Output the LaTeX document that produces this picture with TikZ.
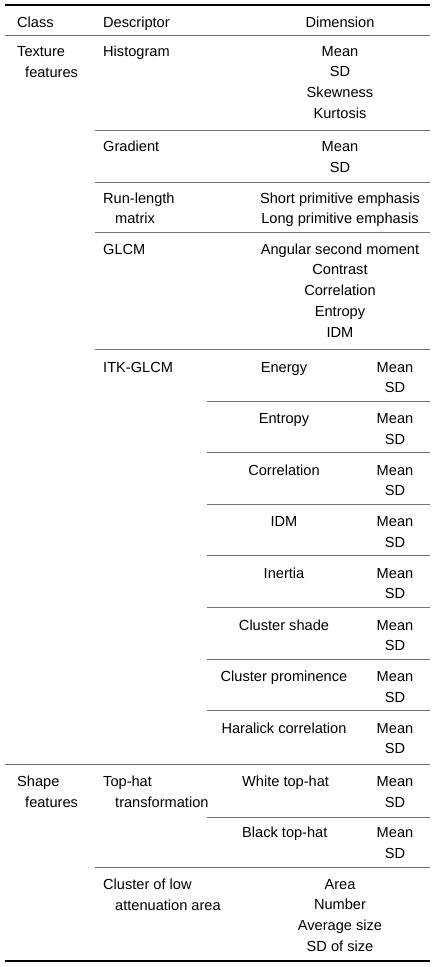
\documentclass[tikz,border=0pt]{standalone}
\usepackage{fontspec}
\setmainfont{Liberation Sans}
\usetikzlibrary{positioning}
\tikzset{lcell/.style={inner sep=0pt, anchor=base west}}
\tikzset{ccell/.style={inner sep=0pt, anchor=base}}
\tikzset{heavyrule/.style={black, line width=1.4pt}}
\tikzset{lightrule/.style={black!55, line width=0.7pt}}

\begin{document}
\begin{tikzpicture} [x=1pt, y=-1pt, font=\fontsize{14.6}{17}\selectfont]
\useasboundingbox (0,0) rectangle (436,967);
\draw[heavyrule] (5,5)--(430,5);
\draw[lightrule] (5,35)--(430,35);
\foreach \y in {130,182,232,349} {
 \draw[lightrule] (95,\y)--(430,\y);
}
\foreach \k in {0,...,6} {
 \draw[lightrule] (207,401+51.6*\k)--(430,401+51.6*\k);
}
\draw[lightrule] (5,764)--(430,764);
\draw[lightrule] (207,817)--(430,817);
\draw[lightrule] (95,867)--(430,867);
\draw[heavyrule] (5,961)--(430,961);
\node[lcell] (class) at (17,27) {Class};
\node[lcell] (descriptor) at (103,27) {Descriptor};
\node[ccell] (dimension) at (340,27) {Dimension};
\node[lcell] (texture) at (17,56) {Texture};
\node[lcell] (texfeat) at (25,77) {features};
\node[lcell] (histogram) at (103,56) {Histogram};
\foreach \d [count=\i from 0] in {Mean,SD,Skewness,Kurtosis} {
 \node[ccell] (hist\i) at (340,56+20.9*\i) {\d};
}
\node[lcell] (gradient) at (103,151) {Gradient};
\node[ccell] (gradmean) at (340,151) {Mean};
\node[ccell] (gradsd) at (340,172) {SD};
\node[lcell] (runlength) at (103,203) {Run-length};
\node[lcell] (runmatrix) at (115,223) {matrix};
\node[ccell] (runshort) at (340,203) {Short primitive emphasis};
\node[ccell] (runlong) at (340,223) {Long primitive emphasis};
\node[lcell] (glcm) at (103,254) {GLCM};
\foreach \d [count=\i from 0] in {Angular second moment,Contrast,Correlation,Entropy,IDM} {
 \node[ccell] (glcm\i) at (340,254+20.9*\i) {\d};
}
\node[lcell] (itkglcm) at (103,372) {ITK-GLCM};
\foreach \d [count=\i from 0] in {Energy,Entropy,Correlation,IDM,Inertia,Cluster shade,Cluster prominence,Haralick correlation} {
 \node[ccell] (itk\i) at (284,372+51.6*\i) {\d};
 \node[ccell] (itkmean\i) at (395,372+51.6*\i) {Mean};
 \node[ccell] (itksd\i) at (395,392.5+51.6*\i) {SD};
}
\node[lcell] (shape) at (17,786) {Shape};
\node[lcell] (shapefeat) at (25,807) {features};
\node[lcell] (tophat) at (103,786) {Top-hat};
\node[lcell] (tophattr) at (115,807) {transformation};
\node[lcell] (white) at (242,786) {White top-hat};
\node[ccell] (whitemean) at (395,786) {Mean};
\node[ccell] (whitesd) at (395,807) {SD};
\node[lcell] (black) at (242,837) {Black top-hat};
\node[ccell] (blackmean) at (395,837) {Mean};
\node[ccell] (blacksd) at (395,858) {SD};
\node[lcell] (cluster) at (103,889) {Cluster of low};
\node[lcell] (clusterarea) at (115,910) {attenuation area};
\foreach \d [count=\i from 0] in {Area,Number,Average size,SD of size} {
 \node[ccell] (laa\i) at (340,889+20.9*\i) {\d};
}
\end{tikzpicture}
\end{document}
